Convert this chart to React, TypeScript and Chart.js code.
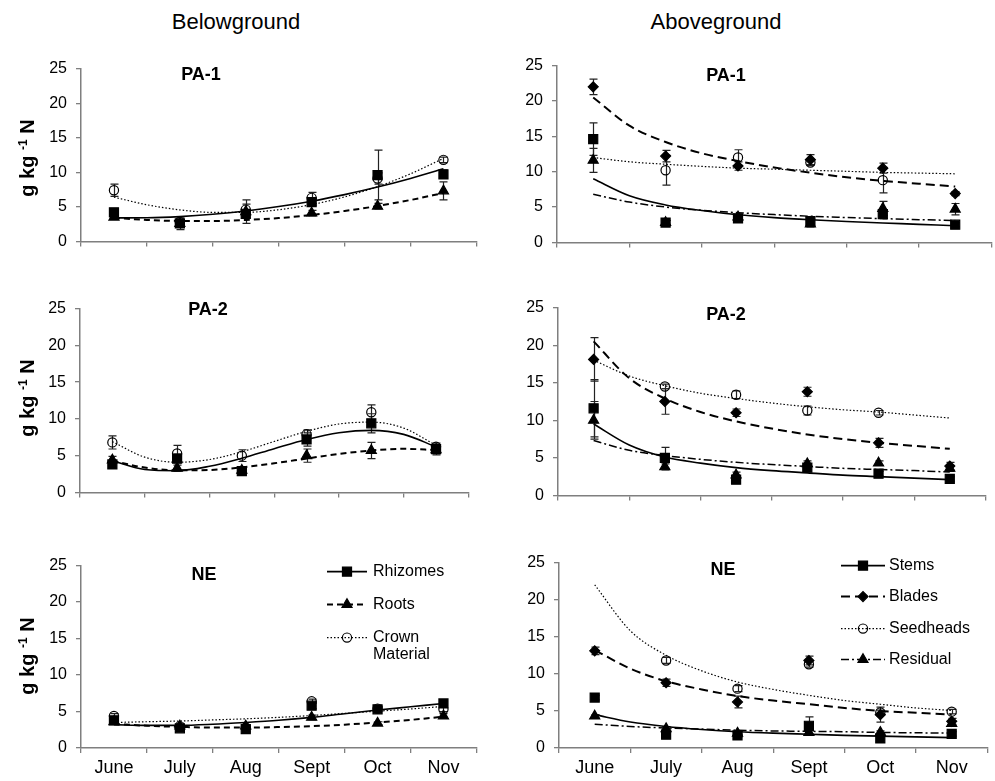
import React, { useEffect, useRef } from 'react';
import { Chart, registerables } from 'chart.js';

Chart.register(...registerables);

const FONT = "'Liberation Sans', Arial, Helvetica, sans-serif";
Chart.defaults.font.family = FONT;
Chart.defaults.color = '#000';

// ---------- categories / ticks ----------
const months = ['June', 'July', 'Aug', 'Sept', 'Oct', 'Nov'];
const monthPos = [1, 2, 3, 4, 5, 6];
const trendPos = [1, 1.5, 2, 2.5, 3, 3.5, 4, 4.5, 5, 5.5, 6];
const yMin = 0;
const yMax = 25;
const yStep = 5;

// ---------- Belowground PA-1 ----------
const bgPa1Rhizomes = [4.2, 2.6, 4.0, 5.7, 9.6, 9.7];
const bgPa1RhizomesErr = [0.4, 0.9, 0.6, 0.5, 3.6, 0.6];
const bgPa1Roots = [3.5, 2.6, 4.3, 4.1, 5.1, 7.3];
const bgPa1RootsErr = [0.3, 0.3, 1.7, 0.4, 0.4, 1.3];
const bgPa1Crown = [7.4, 2.8, 4.6, 6.3, 9.1, 11.8];
const bgPa1CrownErr = [0.9, 0.4, 0.8, 0.8, 0.8, 0.4];
const bgPa1RhizomesTrend = [3.4, 3.42, 3.59, 3.92, 4.4, 5.04, 5.82, 6.77, 7.86, 9.11, 10.5];
const bgPa1RootsTrend = [3.4, 3.1, 2.96, 2.95, 3.1, 3.38, 3.82, 4.4, 5.12, 5.99, 7.0];
const bgPa1CrownTrend = [6.4, 5.3, 4.56, 4.2, 4.2, 4.58, 5.32, 6.44, 7.92, 9.78, 12.0];

// ---------- Aboveground PA-1 ----------
const agPa1Stems = [14.6, 2.8, 3.4, 3.0, 4.0, 2.5];
const agPa1StemsErr = [2.3, 0.3, 0.5, 0.4, 0.6, 0.3];
const agPa1Blades = [22.0, 12.2, 10.8, 11.7, 10.5, 6.9];
const agPa1BladesErr = [1.1, 0.8, 0.6, 0.7, 0.7, 0.3];
const agPa1Seedheads = [null, 10.2, 12.0, 11.3, 8.8, null];
const agPa1SeedheadsErr = [0, 2.1, 1.1, 0.4, 1.8, 0];
const agPa1Residual = [11.6, 2.8, 3.6, 2.6, 4.8, 4.7];
const agPa1ResidualErr = [1.7, 0.3, 0.3, 0.4, 1.0, 0.8];
const agPa1StemsTrend = [9.0, 6.6, 5.3, 4.5, 3.9, 3.5, 3.2, 2.95, 2.75, 2.55, 2.35];
const agPa1BladesTrend = [20.5, 16.5, 14.2, 12.6, 11.5, 10.6, 9.85, 9.2, 8.7, 8.3, 7.9];
const agPa1SeedheadsTrend = [12.0, 11.4, 11.05, 10.75, 10.5, 10.35, 10.2, 10.05, 9.9, 9.8, 9.7];
const agPa1ResidualTrend = [6.8, 5.7, 5.0, 4.55, 4.2, 3.93, 3.7, 3.52, 3.36, 3.22, 3.1];

// ---------- Belowground PA-2 ----------
const bgPa2Rhizomes = [3.8, 4.6, 2.9, 7.2, 9.4, 5.9];
const bgPa2RhizomesErr = [0.4, 0.6, 0.3, 0.9, 1.3, 0.6];
const bgPa2Roots = [4.4, 3.3, 3.0, 5.0, 5.7, 5.8];
const bgPa2RootsErr = [0.5, 0.4, 0.3, 0.9, 1.1, 0.7];
const bgPa2Crown = [6.8, 5.3, 5.0, 7.9, 10.9, 6.2];
const bgPa2CrownErr = [0.9, 1.1, 0.8, 0.6, 1.0, 0.5];
const bgPa2RhizomesTrend = [4.3, 3.11, 2.95, 3.55, 4.65, 5.95, 7.2, 8.12, 8.44, 7.89, 6.2];
const bgPa2RootsTrend = [4.3, 3.38, 3.0, 3.05, 3.4, 3.96, 4.6, 5.23, 5.7, 5.93, 5.75];
const bgPa2CrownTrend = [6.9, 4.79, 4.1, 4.47, 5.53, 6.93, 8.3, 9.3, 9.56, 8.75, 6.4];

// ---------- Aboveground PA-2 ----------
const agPa2Stems = [11.6, 5.0, 2.1, 3.7, 2.9, 2.2];
const agPa2StemsErr = [3.8, 1.4, 0.3, 0.3, 0.3, 0.3];
const agPa2Blades = [18.1, 12.5, 11.0, 13.8, 7.0, 3.9];
const agPa2BladesErr = [2.9, 1.7, 0.5, 0.6, 0.6, 0.5];
const agPa2Seedheads = [null, 14.5, 13.4, 11.3, 11.0, null];
const agPa2SeedheadsErr = [0, 0.3, 0.5, 0.6, 0.3, 0];
const agPa2Residual = [10.0, 3.8, 2.7, 4.2, 4.3, 3.6];
const agPa2ResidualErr = [2.5, 0.4, 0.4, 0.4, 0.3, 0.4];
const agPa2StemsTrend = [9.5, 6.7, 5.1, 4.3, 3.7, 3.3, 3.0, 2.7, 2.5, 2.3, 2.1];
const agPa2BladesTrend = [20.5, 15.6, 12.9, 11.1, 9.85, 8.9, 8.1, 7.5, 7.0, 6.6, 6.2];
const agPa2SeedheadsTrend = [18.0, 15.9, 14.6, 13.6, 12.9, 12.3, 11.8, 11.4, 11.1, 10.7, 10.3];
const agPa2ResidualTrend = [7.3, 6.0, 5.3, 4.8, 4.4, 4.1, 3.85, 3.6, 3.45, 3.3, 3.1];

// ---------- Belowground NE ----------
const bgNeRhizomes = [3.8, 2.7, 2.6, 5.8, 5.3, 6.1];
const bgNeRhizomesErr = [0.3, 0.3, 0.4, 0.4, 0.3, 0.3];
const bgNeRoots = [3.6, 3.0, 3.0, 4.2, 3.4, 4.4];
const bgNeRootsErr = [0.2, 0.2, 0.2, 0.3, 0.2, 0.3];
const bgNeCrown = [4.4, 3.0, 2.8, 6.4, 5.4, 5.3];
const bgNeCrownErr = [0.3, 0.2, 0.2, 0.3, 0.3, 0.3];
const bgNeRhizomesTrend = [3.2, 3.1, 3.1, 3.25, 3.5, 3.8, 4.2, 4.7, 5.2, 5.65, 6.1];
const bgNeRootsTrend = [3.3, 3.05, 2.9, 2.8, 2.8, 2.87, 3.0, 3.2, 3.5, 3.85, 4.3];
const bgNeCrownTrend = [3.5, 3.6, 3.7, 3.85, 4.0, 4.2, 4.45, 4.75, 5.05, 5.35, 5.7];

// ---------- Aboveground NE ----------
const agNeStems = [6.8, 1.8, 1.7, 3.0, 1.3, 1.9];
const agNeStemsErr = [0.3, 0.3, 0.2, 1.2, 0.3, 0.3];
const agNeBlades = [13.1, 8.8, 6.2, 11.8, 4.5, 3.6];
const agNeBladesErr = [0.5, 0.5, 0.8, 0.6, 1.0, 0.4];
const agNeSeedheads = [null, 11.8, 8.0, 11.3, 4.8, 4.9];
const agNeSeedheadsErr = [0, 0.4, 0.4, 0.4, 0.3, 0.3];
const agNeResidual = [4.3, 2.6, 2.0, 2.1, 2.1, 3.3];
const agNeResidualErr = [0.2, 0.3, 0.2, 0.2, 0.2, 0.3];
const agNeStemsTrend = [4.5, 3.5, 2.9, 2.5, 2.2, 2.0, 1.85, 1.7, 1.6, 1.5, 1.4];
const agNeBladesTrend = [13.2, 10.7, 9.0, 7.9, 7.0, 6.4, 5.9, 5.4, 5.0, 4.75, 4.5];
const agNeSeedheadsTrend = [22.0, 15.8, 12.5, 10.4, 8.9, 7.9, 7.1, 6.4, 5.9, 5.4, 5.06];
const agNeResidualTrend = [3.2, 2.9, 2.7, 2.55, 2.4, 2.3, 2.25, 2.2, 2.1, 2.05, 2.0];

// ---------- styles ----------
type Marker = 'rect' | 'triangle' | 'rectRot' | 'circle';
interface Sty { marker: Marker; radius: number; fill: string; dash: number[]; width: number }
const S_SQUARE: Sty = { marker: 'rect', radius: 6.4, fill: '#000', dash: [], width: 1.6 };
const S_TRI_DASH: Sty = { marker: 'triangle', radius: 5.8, fill: '#000', dash: [6, 4], width: 2 };
const S_CIRCLE: Sty = { marker: 'circle', radius: 4.6, fill: 'rgba(0,0,0,0)', dash: [1.5, 2], width: 1.2 };
const S_DIAMOND: Sty = { marker: 'rectRot', radius: 5, fill: '#000', dash: [9, 5], width: 2 };
const S_TRI_DASHDOT: Sty = { marker: 'triangle', radius: 5.8, fill: '#000', dash: [8, 3, 2, 3], width: 1.5 };

interface Series { label: string[]; values: (number | null)[]; errs: number[]; trend: number[]; sty: Sty }
interface LegendGeom { x1: number; x2: number; mx: number; tx: number; rows: number[] }
interface PanelCfg {
  left: number; right: number; top: number; bottom: number;
  showMonths: boolean; series: Series[]; legend?: LegendGeom;
}

const below = (r: any[], re: number[], ro: any[], roe: number[], c: any[], ce: number[], rt: number[], rot: number[], ct: number[]): Series[] => [
  { label: ['Rhizomes'], values: r, errs: re, trend: rt, sty: S_SQUARE },
  { label: ['Roots'], values: ro, errs: roe, trend: rot, sty: S_TRI_DASH },
  { label: ['Crown', 'Material'], values: c, errs: ce, trend: ct, sty: S_CIRCLE },
];
const above = (s: any[], se: number[], b: any[], be: number[], sh: any[], she: number[], re: any[], ree: number[], st: number[], bt: number[], sht: number[], rt: number[]): Series[] => [
  { label: ['Stems'], values: s, errs: se, trend: st, sty: S_SQUARE },
  { label: ['Blades'], values: b, errs: be, trend: bt, sty: S_DIAMOND },
  { label: ['Seedheads'], values: sh, errs: she, trend: sht, sty: S_CIRCLE },
  { label: ['Residual'], values: re, errs: ree, trend: rt, sty: S_TRI_DASHDOT },
];

const panels: PanelCfg[] = [
  { left: 81, right: 478, top: 66, bottom: 248, showMonths: false,
    series: below(bgPa1Rhizomes, bgPa1RhizomesErr, bgPa1Roots, bgPa1RootsErr, bgPa1Crown, bgPa1CrownErr, bgPa1RhizomesTrend, bgPa1RootsTrend, bgPa1CrownTrend) },
  { left: 557, right: 993, top: 63, bottom: 249, showMonths: false,
    series: above(agPa1Stems, agPa1StemsErr, agPa1Blades, agPa1BladesErr, agPa1Seedheads, agPa1SeedheadsErr, agPa1Residual, agPa1ResidualErr, agPa1StemsTrend, agPa1BladesTrend, agPa1SeedheadsTrend, agPa1ResidualTrend) },
  { left: 80, right: 470, top: 306, bottom: 499, showMonths: false,
    series: below(bgPa2Rhizomes, bgPa2RhizomesErr, bgPa2Roots, bgPa2RootsErr, bgPa2Crown, bgPa2CrownErr, bgPa2RhizomesTrend, bgPa2RootsTrend, bgPa2CrownTrend) },
  { left: 558, right: 987, top: 305, bottom: 502, showMonths: false,
    series: above(agPa2Stems, agPa2StemsErr, agPa2Blades, agPa2BladesErr, agPa2Seedheads, agPa2SeedheadsErr, agPa2Residual, agPa2ResidualErr, agPa2StemsTrend, agPa2BladesTrend, agPa2SeedheadsTrend, agPa2ResidualTrend) },
  { left: 81, right: 478, top: 563, bottom: 748, showMonths: true,
    series: below(bgNeRhizomes, bgNeRhizomesErr, bgNeRoots, bgNeRootsErr, bgNeCrown, bgNeCrownErr, bgNeRhizomesTrend, bgNeRootsTrend, bgNeCrownTrend),
    legend: { x1: 246, x2: 286, mx: 266, tx: 292, rows: [6, 39, 72] } },
  { left: 559, right: 989, top: 560, bottom: 748, showMonths: true,
    series: above(agNeStems, agNeStemsErr, agNeBlades, agNeBladesErr, agNeSeedheads, agNeSeedheadsErr, agNeResidual, agNeResidualErr, agNeStemsTrend, agNeBladesTrend, agNeSeedheadsTrend, agNeResidualTrend),
    legend: { x1: 282, x2: 326, mx: 304, tx: 330, rows: [3, 34, 66, 97] } },
];

const AXIS = '#7f7f7f';
const YW = 45;
const PT = 16;
const PR = 6;

function geom(p: PanelCfg) {
  const xh = p.showMonths ? 33 : 12;
  return { cl: p.left - YW, ct: p.top - PT, w: p.right - p.left + YW + PR, h: p.bottom - p.top + PT + xh, xh };
}

function drawMarker(ctx: CanvasRenderingContext2D, sty: Sty, x: number, y: number) {
  const r = sty.radius;
  ctx.save();
  ctx.setLineDash([]);
  ctx.lineWidth = 1.2;
  ctx.strokeStyle = '#000';
  ctx.fillStyle = sty.fill;
  ctx.beginPath();
  if (sty.marker === 'rect') {
    const s = Math.SQRT1_2 * r;
    ctx.rect(x - s, y - s, 2 * s, 2 * s);
  } else if (sty.marker === 'triangle') {
    ctx.moveTo(x, y - r);
    ctx.lineTo(x + 0.866 * r, y + 0.5 * r);
    ctx.lineTo(x - 0.866 * r, y + 0.5 * r);
    ctx.closePath();
  } else if (sty.marker === 'rectRot') {
    ctx.moveTo(x - r, y);
    ctx.lineTo(x, y - r);
    ctx.lineTo(x + r, y);
    ctx.lineTo(x, y + r);
    ctx.closePath();
  } else {
    ctx.arc(x, y, r, 0, Math.PI * 2);
  }
  ctx.fill();
  ctx.stroke();
  ctx.restore();
}

const errorBarPlugin = {
  id: 'errorBars',
  beforeDatasetsDraw(chart: any) {
    const ctx = chart.ctx as CanvasRenderingContext2D;
    const ys = chart.scales.y;
    ctx.save();
    ctx.strokeStyle = '#222';
    ctx.lineWidth = 1.2;
    ctx.setLineDash([]);
    chart.data.datasets.forEach((ds: any, i: number) => {
      if (!ds.isPoints) return;
      const meta = chart.getDatasetMeta(i);
      meta.data.forEach((el: any, j: number) => {
        const d = ds.data[j];
        if (!d || d.y == null || !d.e) return;
        const px = Math.round(el.x) + 0.5;
        const t = ys.getPixelForValue(d.y + d.e);
        const b = ys.getPixelForValue(d.y - d.e);
        ctx.beginPath();
        ctx.moveTo(px, t); ctx.lineTo(px, b);
        ctx.moveTo(px - 4, t); ctx.lineTo(px + 4, t);
        ctx.moveTo(px - 4, b); ctx.lineTo(px + 4, b);
        ctx.stroke();
      });
    });
    ctx.restore();
  },
};

function Panel({ p }: { p: PanelCfg }) {
  const ref = useRef<HTMLCanvasElement>(null);
  const g = geom(p);
  useEffect(() => {
    const datasets: any[] = [];
    p.series.forEach((s) => {
      datasets.push({
        type: 'line',
        label: s.label.join(' ') + ' trend',
        data: trendPos.map((x, i) => ({ x, y: s.trend[i] })),
        xAxisID: 'xl', yAxisID: 'y',
        borderColor: '#000', borderWidth: s.sty.width, borderDash: s.sty.dash,
        pointRadius: 0, fill: false, cubicInterpolationMode: 'monotone', order: 2,
      });
      datasets.push({
        type: 'line',
        label: s.label.join(' '),
        isPoints: true,
        data: monthPos.map((x, i) => ({ x, y: s.values[i], e: s.errs[i] })).filter((d) => d.y != null),
        xAxisID: 'xl', yAxisID: 'y', showLine: false,
        pointStyle: s.sty.marker, pointRadius: s.sty.radius,
        pointBackgroundColor: s.sty.fill, pointBorderColor: '#000', pointBorderWidth: 1.2,
        order: 1,
      });
    });
    const legendPlugin = {
      id: 'panelLegend',
      afterDatasetsDraw(chart: any) {
        if (!p.legend) return;
        const L = p.legend;
        const ctx = chart.ctx as CanvasRenderingContext2D;
        const ca = chart.chartArea;
        ctx.save();
        p.series.forEach((s, k) => {
          const y = ca.top + L.rows[k];
          ctx.beginPath();
          ctx.setLineDash(s.sty.dash);
          ctx.lineWidth = s.sty.width;
          ctx.strokeStyle = '#000';
          ctx.moveTo(ca.left + L.x1, y);
          ctx.lineTo(ca.left + L.x2, y);
          ctx.stroke();
          drawMarker(ctx, s.sty, ca.left + L.mx, y);
          ctx.fillStyle = '#000';
          ctx.font = `16px ${FONT}`;
          ctx.textAlign = 'left';
          ctx.textBaseline = 'middle';
          s.label.forEach((t, li) => ctx.fillText(t, ca.left + L.tx, y + li * 17));
        });
        ctx.restore();
      },
    };
    const chart = new Chart(ref.current as HTMLCanvasElement, {
      type: 'line',
      data: { labels: months, datasets },
      options: {
        responsive: false,
        animation: false,
        devicePixelRatio: 1,
        events: [],
        layout: { padding: { top: PT, right: PR, left: 0, bottom: 0 } },
        plugins: { legend: { display: false }, tooltip: { enabled: false }, title: { display: false } },
        scales: {
          x: {
            type: 'category', labels: months, offset: true, position: 'bottom',
            grid: { offset: true, drawOnChartArea: false, drawTicks: true, tickLength: 5, color: AXIS, lineWidth: 1.3 },
            border: { color: AXIS, width: 1.5 },
            ticks: { display: p.showMonths, font: { size: 18, family: FONT }, color: '#000', padding: 4, maxRotation: 0, autoSkip: false },
            afterFit: (s: any) => { s.height = g.xh; },
          },
          xl: { type: 'linear', min: 0.5, max: 6.5, display: false },
          y: {
            type: 'linear', min: yMin, max: yMax, position: 'left',
            ticks: { stepSize: yStep, font: { size: 16, family: FONT }, color: '#000', padding: 9 },
            grid: { drawOnChartArea: false, drawTicks: true, tickLength: 5, color: AXIS, lineWidth: 1.3 },
            border: { color: AXIS, width: 1.5 },
            afterFit: (s: any) => { s.width = YW; },
          },
        },
      } as any,
      plugins: [errorBarPlugin, legendPlugin],
    } as any);
    return () => chart.destroy();
  }, []);
  return (
    <canvas
      ref={ref}
      width={g.w}
      height={g.h}
      style={{ position: 'absolute', left: g.cl, top: g.ct, width: g.w, height: g.h }}
    />
  );
}

function Txt({ x, y, size, bold, children, rotate }: { x: number; y: number; size: number; bold?: boolean; children: any; rotate?: boolean }) {
  return (
    <div
      style={{
        position: 'absolute', left: x, top: y,
        transform: `translate(-50%, -50%)${rotate ? ' rotate(-90deg)' : ''}`,
        fontSize: size, fontWeight: bold ? 'bold' : 'normal', whiteSpace: 'nowrap', lineHeight: 1,
        fontFamily: FONT, color: '#000',
      }}
    >
      {children}
    </div>
  );
}

function YTitle({ y }: { y: number }) {
  return (
    <Txt x={27} y={y} size={20} bold rotate>
      g kg <span style={{ fontSize: 12, position: 'relative', top: -7 }}>-1</span> N
    </Txt>
  );
}

export default function App() {
  return (
    <div style={{ position: 'absolute', left: 0, top: 0, width: 995, height: 781, overflow: 'hidden', background: '#fff', fontFamily: FONT }}>
      {panels.map((p, i) => <Panel key={i} p={p} />)}
      <Txt x={236} y={22} size={22}>Belowground</Txt>
      <Txt x={716} y={22} size={22}>Aboveground</Txt>
      <YTitle y={158} />
      <YTitle y={398} />
      <YTitle y={656} />
      <Txt x={201} y={74} size={18} bold>PA-1</Txt>
      <Txt x={726} y={75} size={18} bold>PA-1</Txt>
      <Txt x={208} y={309} size={18} bold>PA-2</Txt>
      <Txt x={726} y={314} size={18} bold>PA-2</Txt>
      <Txt x={204} y={574} size={18} bold>NE</Txt>
      <Txt x={723} y={569} size={18} bold>NE</Txt>
    </div>
  );
}
